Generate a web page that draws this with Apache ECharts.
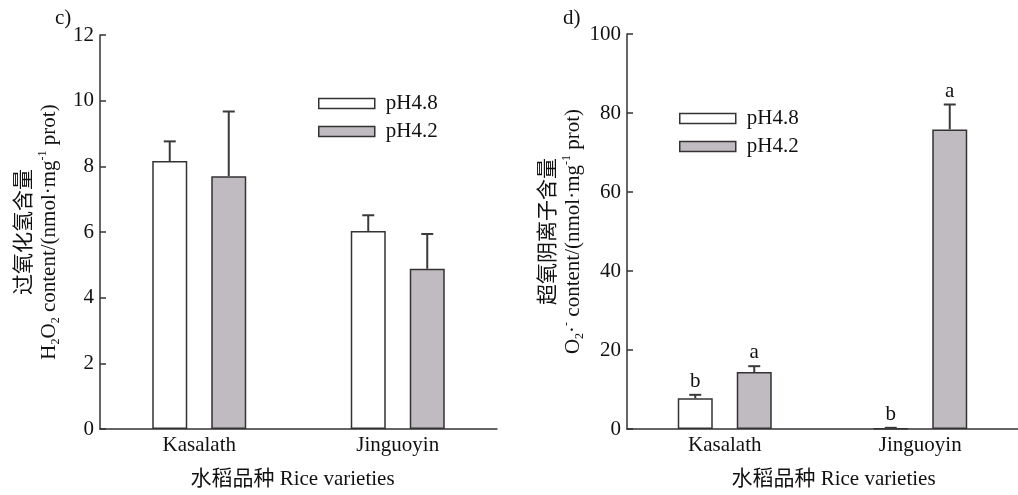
<!DOCTYPE html>
<html>
<head>
<meta charset="utf-8">
<script src="https://cdn.jsdelivr.net/npm/echarts@6/dist/echarts.min.js"></script>
<style>
  html, body { margin: 0; padding: 0; background: #fff; }
  #chart { width: 1018px; height: 495px; }
</style>
</head>
<body>
<div id="chart"></div>
<script>
// 水稻品种
var varieties = ['Kasalath', 'Jinguoyin']
var treatments = ['pH4.8', 'pH4.2']

// c) H2O2 含量
var h2o2Ph48 = [8.16, 6.03]
var h2o2Ph48Err = [0.6, 0.48]
var h2o2Ph42 = [7.7, 4.88]
var h2o2Ph42Err = [1.97, 1.06]

// d) O2·- 含量
var o2Ph48 = [7.8, 0.1]
var o2Ph48Err = [0.85, 0.2]
var o2Ph42 = [14.4, 75.85]
var o2Ph42Err = [1.5, 6.3]
var o2Ph48Letters = ['b', 'b']
var o2Ph42Letters = ['a', 'a']

var yTicksLeft = { min: 0, max: 12, interval: 2 }
var yTicksRight = { min: 0, max: 100, interval: 20 }

var FONT = '"Liberation Serif", "Noto Sans CJK SC", serif'
var FS = 21
var TXT = '#111'
var BAR_W = 35
var GAP = 24
var OFFSET = (BAR_W + GAP) / 2

var chart = echarts.init(document.getElementById('chart'))

function barSeries(name, data, fill, axisIdx) {
  return {
    name: name,
    type: 'bar',
    xAxisIndex: axisIdx,
    yAxisIndex: axisIdx,
    data: data,
    barWidth: BAR_W,
    barGap: (GAP / BAR_W * 100).toFixed(2) + '%',
    itemStyle: { color: fill, borderColor: '#333', borderWidth: 1.5 },
    emphasis: { disabled: true },
    z: 2
  }
}

function errSeries(name, values, errs, letters, offset, axisIdx) {
  return {
    name: name,
    type: 'custom',
    xAxisIndex: axisIdx,
    yAxisIndex: axisIdx,
    data: values.map(function (v, i) { return [i, v, errs[i]] }),
    renderItem: function (params, api) {
      var base = api.coord([api.value(0), api.value(1)])
      var top = api.coord([api.value(0), api.value(1) + api.value(2)])
      var cx = base[0] + offset
      var style = { stroke: '#3a3a3a', lineWidth: 2 }
      var kids = [
        { type: 'line', shape: { x1: cx, y1: base[1], x2: cx, y2: top[1] }, style: style },
        { type: 'line', shape: { x1: cx - 6, y1: top[1], x2: cx + 6, y2: top[1] }, style: style }
      ]
      if (letters) {
        kids.push({
          type: 'text',
          style: {
            text: letters[params.dataIndex], x: cx, y: top[1] - 3,
            align: 'center', verticalAlign: 'bottom',
            font: FS + 'px ' + FONT, fill: TXT
          }
        })
      }
      return { type: 'group', children: kids }
    },
    z: 3
  }
}

function yAxisOpt(idx, ticks, name, gap) {
  return {
    gridIndex: idx,
    type: 'value',
    min: ticks.min,
    max: ticks.max,
    interval: ticks.interval,
    name: name,
    nameLocation: 'middle',
    nameGap: gap,
    nameRotate: 90,
    nameTextStyle: {
      fontFamily: FONT, fontSize: FS, lineHeight: 25, color: TXT,
      rich: {
        sub: { fontFamily: FONT, fontSize: 12, lineHeight: 12, verticalAlign: 'bottom', color: TXT },
        sup: { fontFamily: FONT, fontSize: 12, lineHeight: 12, verticalAlign: 'top', color: TXT }
      }
    },
    axisLine: { show: true, lineStyle: { color: '#333', width: 1.5 } },
    axisTick: { show: true, inside: true, length: 6, lineStyle: { color: '#333', width: 1.5 } },
    axisLabel: { fontFamily: FONT, fontSize: FS, color: TXT, margin: 6 },
    splitLine: { show: false }
  }
}

function xAxisOpt(idx, namePad) {
  return {
    gridIndex: idx,
    type: 'category',
    data: varieties,
    name: '水稻品种 Rice varieties',
    nameLocation: 'middle',
    nameGap: 40,
    nameTextStyle: { fontFamily: FONT, fontSize: FS, color: TXT, padding: namePad },
    axisLine: { lineStyle: { color: '#333', width: 1.5 } },
    axisTick: { alignWithLabel: true, inside: true, length: 6, lineStyle: { color: '#333', width: 1.5 } },
    axisLabel: { fontFamily: FONT, fontSize: FS, color: TXT, margin: 6 }
  }
}

function legendOpt(left, top) {
  return {
    orient: 'vertical',
    left: left,
    top: top,
    padding: 0,
    data: treatments,
    icon: 'rect',
    itemWidth: 56,
    itemHeight: 10,
    itemGap: 7,
    selectedMode: false,
    itemStyle: { borderColor: '#333', borderWidth: 1.5 },
    textStyle: { fontFamily: FONT, fontSize: FS, color: TXT, padding: [0, 0, 0, 6] }
  }
}

chart.setOption({
  animation: false,
  graphic: [
    { type: 'text', left: 55, top: 8, style: { text: 'c)', font: FS + 'px ' + FONT, fill: TXT } },
    { type: 'text', left: 563, top: 8, style: { text: 'd)', font: FS + 'px ' + FONT, fill: TXT } }
  ],
  legend: [legendOpt(318, 93), legendOpt(679, 108)],
  grid: [
    { left: 100, top: 35, right: 521, bottom: 65 },
    { left: 627, top: 34, right: -6, bottom: 65 }
  ],
  xAxis: [xAxisOpt(0, [0, 12, 0, 0]), xAxisOpt(1, [0, 0, 0, 22])],
  yAxis: [
    yAxisOpt(0, yTicksLeft, '过氧化氢含量\nH{sub|2}O{sub|2} content/(nmol·mg{sup|-1} prot)', 38),
    yAxisOpt(1, yTicksRight, '超氧阴离子含量\nO{sub|2}·{sup|-} content/(nmol·mg{sup|-1} prot)', 40)
  ],
  series: [
    barSeries('pH4.8', h2o2Ph48, '#ffffff', 0),
    barSeries('pH4.2', h2o2Ph42, '#c0bbc0', 0),
    errSeries('pH4.8 err', h2o2Ph48, h2o2Ph48Err, null, -OFFSET, 0),
    errSeries('pH4.2 err', h2o2Ph42, h2o2Ph42Err, null, OFFSET, 0),
    barSeries('pH4.8', o2Ph48, '#ffffff', 1),
    barSeries('pH4.2', o2Ph42, '#c0bbc0', 1),
    errSeries('pH4.8 err', o2Ph48, o2Ph48Err, o2Ph48Letters, -OFFSET, 1),
    errSeries('pH4.2 err', o2Ph42, o2Ph42Err, o2Ph42Letters, OFFSET, 1)
  ]
})
</script>
</body>
</html>
